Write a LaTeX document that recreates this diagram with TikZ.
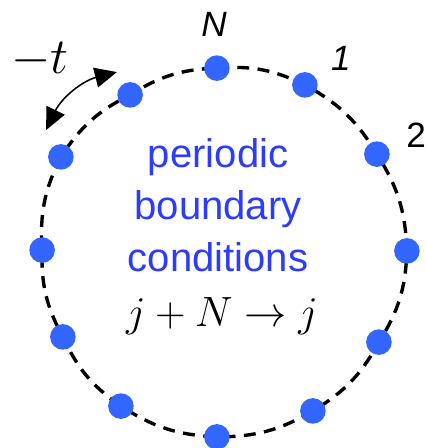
\documentclass[tikz,border=0pt]{standalone}
\usepackage{fontspec}
\setsansfont{Liberation Sans}
\usepackage{amsmath}
\usetikzlibrary{arrows.meta}
\definecolor{sitecol}{RGB}{51,102,255}
\definecolor{textcol}{RGB}{45,60,250}
\pgfdeclarelayer{background}
\pgfsetlayers{background,main}

\begin{document}
\begin{tikzpicture}[
        site/.style={circle,fill=sitecol,inner sep=0pt,minimum size=0.64cm},
        ring/.style={black,line width=2.4pt,dash pattern=on 8.5pt off 6pt},
        lab/.style={font=\sffamily\itshape\fontsize{25}{30}\selectfont},
        hop/.style={{Triangle[length=0.55cm,width=0.5cm]}-{Triangle[length=0.55cm,width=0.5cm]},line width=1.1pt}]
                \useasboundingbox (-5.6125,-4.8875) rectangle (5.0375,6.3125);

                \node[site] (A) at (-0.19,	4.61) {};
                \node[site] (B) at (2.01,	4.19) {};
                \node[site] (C) at (3.81,	2.46) {};
                \node[site] (D) at (4.56,	0.04) {};
                \node[site] (E) at (3.86,	-2.24) {};
                \node[site] (F) at (2.21,	-3.96) {};
                \node[site] (G) at (-0.19,	-4.61) {};
                \node[site] (H) at (-2.59,	-3.84) {};
                \node[site] (I) at (-4.04,	-2.11) {};
                \node[site] (J) at (-4.56,	0.06) {};
                \node[site] (K) at (-4.09,	2.39) {};
                \node[site] (L) at (-2.36,	3.94) {};

                \node[lab] (NN) at (-0.26, 5.69) {N};
                \node[lab] (one) at (2.91, 4.86) {1};
                \node[font=\sffamily\fontsize{25}{30}\selectfont] (two) at (4.79, 2.94) {2};

                \node[scale=1.45] (hopt) at (-4.61, 4.81) {\Huge$-t$};
                \coordinate (tlow) at (-4.46, 3.06);
                \coordinate (tup) at (-2.69, 4.51);

                \node[text=textcol,align=center,font=\sffamily\fontsize{28.5}{37}\selectfont] (pbc) at (-0.16, 1.18) {periodic\\boundary\\conditions};
                \node[anchor=base,scale=1.21] (rule) at (-0.06, -1.86) {\Huge$j+N\to j$};

                % ring of sites, behind the dots
                \begin{pgfonlayer}{background}
                \draw[ring] (A.center) to[bend left=15] (B.center)
                to[bend left=15] (C.center) to[bend left=15] (D.center)
                to[bend left=15] (E.center) to[bend left=15] (F.center)
                to[bend left=15] (G.center) to[bend left=15] (H.center)
                to[bend left=15] (I.center) to[bend left=15] (J.center)
                to[bend left=15] (K.center) to[bend left=15] (L.center)
                to[bend left=15] (A.center);
                \end{pgfonlayer}
                \draw[hop] (tlow) to[bend left=25] (tup);
                \end{tikzpicture}
\end{document}
